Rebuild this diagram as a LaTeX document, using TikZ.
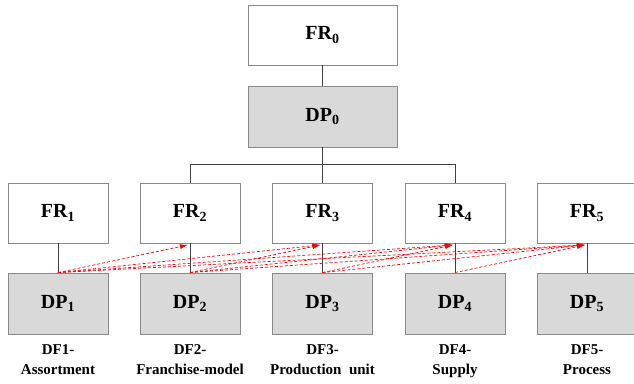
\documentclass[tikz,border=0pt]{standalone}
\usepackage{fontspec}
\setmainfont{Liberation Serif}
\usetikzlibrary{arrows.meta}
\definecolor{boxline}{HTML}{8A8A8A}
\definecolor{dpfill}{HTML}{D9D9D9}
\newcommand{\lbl}[2]{#1\textsubscript{#2}}
\begin{document}
\begin{tikzpicture}[x=1pt,y=-1pt,
  frbox/.style={draw=boxline,line width=0.9pt,fill=white,minimum width=100pt,minimum height=60pt,inner sep=0pt,font=\bfseries\fontsize{20}{22}\selectfont},
  dpbox/.style={frbox,fill=dpfill,minimum height=61pt},
  topbox/.style={frbox,minimum width=149pt},
  link/.style={draw=black!75,line width=0.8pt},
  coupling/.style={draw=red,line width=0.7pt,dash pattern=on 3pt off 2pt,-{Latex[length=8pt,width=5pt]}},
  caption/.style={align=center,anchor=north,inner sep=0pt,font=\bfseries\fontsize{15}{20}\selectfont}]
\useasboundingbox (0,0) rectangle (634,383);
\clip (0,0) rectangle (634,383);
% top level
\node[topbox] (FR0) at (322.5,35) {\lbl{FR}{0}};
\node[topbox,fill=dpfill,minimum height=61pt] (DP0) at (322.5,116.5) {\lbl{DP}{0}};
% second level
\foreach \i/\x in {1/58,2/190,3/322.5,4/455,5/587}{
  \node[frbox] (FR\i) at (\x,213) {\lbl{FR}{\i}};
  \node[dpbox] (DP\i) at (\x,303.5) {\lbl{DP}{\i}};
}
% hierarchy links
\draw[link] (FR0) -- (DP0);
\draw[link] (DP0.south) -- (FR3.north);
\coordinate (busL) at (190,164);
\coordinate (busR) at (455,164);
\draw[link] (FR2.north) |- (busL) -- (busR) -| (FR4.north);
\foreach \i in {1,...,5}{ \draw[link] (FR\i) -- (DP\i); }
% coupling arrows (upper triangular)
\foreach \i/\j in {1/2,1/3,1/4,1/5,2/3,2/4,2/5,3/4,3/5,4/5}{
  \draw[coupling] (DP\i.north) -- ([xshift=-2pt,yshift=-1.5pt]FR\j.south);
}
% captions
\node[caption] (c1) at (58,340) {DF1-\strut\\Assortment\strut};
\node[caption] (c2) at (190,340) {DF2-\strut\\Franchise-model\strut};
\node[caption] (c3) at (322.5,340) {DF3-\strut\\Production\ \ unit\strut};
\node[caption] (c4) at (455,340) {DF4-\strut\\Supply\strut};
\node[caption] (c5) at (587,340) {DF5-\strut\\Process\strut};
\end{tikzpicture}
\end{document}
